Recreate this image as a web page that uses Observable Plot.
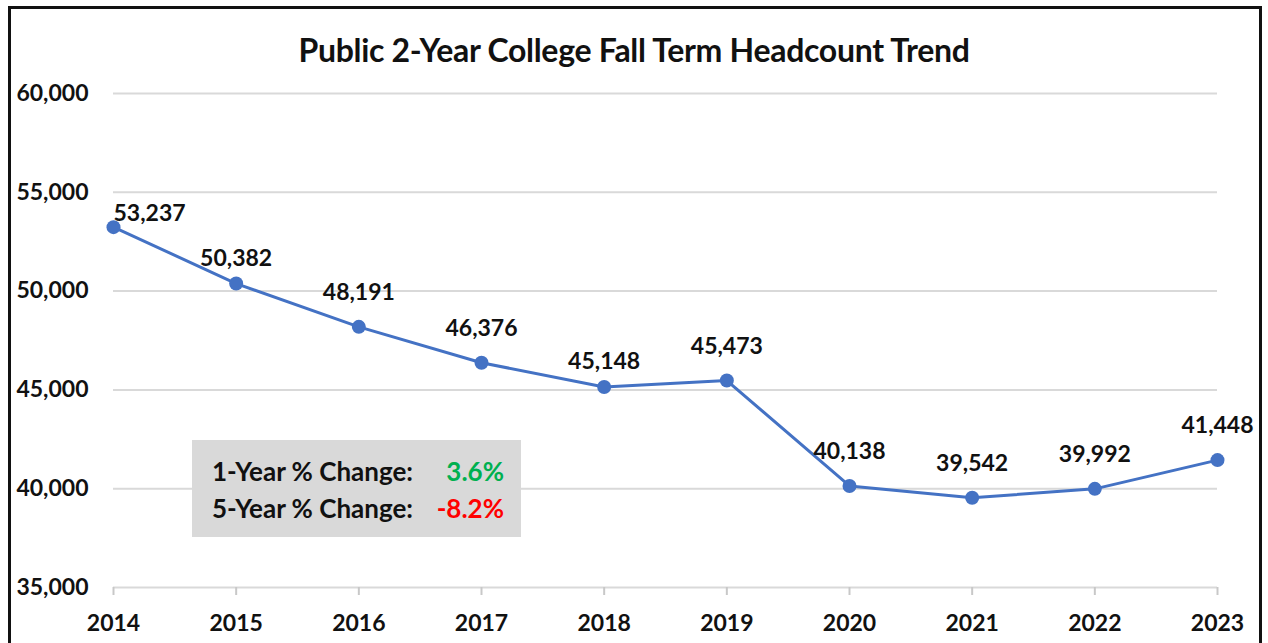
<!DOCTYPE html>
<html>
<head>
<meta charset="utf-8">
<script src="https://cdn.jsdelivr.net/npm/d3@7"></script>
<script src="https://cdn.jsdelivr.net/npm/@observablehq/plot@0.6"></script>
<style>
  html, body { margin: 0; padding: 0; background: #fff; overflow: hidden; }
  #wrap { position: relative; width: 1268px; height: 643px; font-family: Lato, "Open Sans", sans-serif; }
  #frame { position: absolute; left: 8px; top: 6px; width: 1254px; height: 660px; border: 3px solid #111; box-sizing: border-box; pointer-events: none; }
  #title { position: absolute; left: 0; width: 1268px; top: 30px; line-height: 40px; text-align: center; font-weight: 700; font-size: 32px; color: #111; letter-spacing: -0.3px; }
  #box { position: absolute; left: 192px; top: 440px; width: 329px; height: 97px; background: #d9d9d9; font-weight: 700; font-size: 26px; color: #111; }
  #box .row { position: absolute; left: 20px; width: 292px; line-height: 30px; display: flex; justify-content: space-between; }
  #box .g { color: #00b050; }
  #box .r { color: #ff0000; }
  #chart { position: absolute; left: 0; top: 0; }
</style>
</head>
<body>
<div id="wrap">
  <div id="chart"></div>
  <div id="title"></div>
  <div id="box"></div>
  <div id="frame"></div>
</div>
<script>
const title = "Public 2-Year College Fall Term Headcount Trend";
const years = [2014, 2015, 2016, 2017, 2018, 2019, 2020, 2021, 2022, 2023];
const headcount = [53237, 50382, 48191, 46376, 45148, 45473, 40138, 39542, 39992, 41448];
const yTicks = [35000, 40000, 45000, 50000, 55000, 60000];
const changeLabels = ["1-Year % Change:", "5-Year % Change:"];
const changeValues = ["3.6%", "-8.2%"];

const data = years.map((year, i) => ({year, value: headcount[i]}));
const fmt = d3.format(",");
const lowLabels = new Set([2015, 2018]);

const blue = "#4472c4";
const grid = "#d9d9d9";

const chart = Plot.plot({
  width: 1268,
  height: 643,
  marginLeft: 113,
  marginRight: 51,
  marginTop: 93,
  marginBottom: 56,
  style: {fontFamily: "Lato, 'Open Sans', sans-serif", fontWeight: 700, fontSize: "23px", color: "#111", background: "transparent"},
  x: {type: "linear", domain: [years[0], years[years.length - 1]]},
  y: {domain: [yTicks[0], yTicks[yTicks.length - 1]]},
  marks: [
    Plot.ruleY(yTicks, {stroke: grid, strokeWidth: 2}),
    Plot.axisX({ticks: years, tickFormat: d => String(d), tickSize: 8, tickPadding: 19, stroke: "#c8c8c8", strokeWidth: 2, fill: "#111", fontSize: 23, fontWeight: 700, label: null}),
    Plot.axisY({ticks: yTicks, tickFormat: fmt, tickSize: 0, tickPadding: 25, fill: "#111", fontSize: 23, fontWeight: 700, label: null}),
    Plot.line(data, {x: "year", y: "value", stroke: blue, strokeWidth: 3}),
    Plot.dot(data, {x: "year", y: "value", fill: blue, r: 7}),
    Plot.text(data.filter((d, i) => i === 0), {x: "year", y: "value", text: d => fmt(d.value), textAnchor: "start", dx: 0, dy: -14, fontSize: 23, fontWeight: 700, fill: "#111"}),
    Plot.text(data.filter((d, i) => i > 0 && !lowLabels.has(d.year)), {x: "year", y: "value", text: d => fmt(d.value), dy: -34, fontSize: 23, fontWeight: 700, fill: "#111"}),
    Plot.text(data.filter(d => lowLabels.has(d.year)), {x: "year", y: "value", text: d => fmt(d.value), dy: -25, fontSize: 23, fontWeight: 700, fill: "#111"})
  ]
});
document.getElementById("chart").appendChild(chart);
document.getElementById("title").textContent = title;

const box = document.getElementById("box");
const classes = ["g", "r"];
const tops = [16, 53];
changeLabels.forEach((lab, i) => {
  const row = document.createElement("div");
  row.className = "row";
  row.style.top = tops[i] + "px";
  const a = document.createElement("span"); a.textContent = lab;
  const b = document.createElement("span"); b.textContent = changeValues[i]; b.className = classes[i];
  row.appendChild(a); row.appendChild(b);
  box.appendChild(row);
});
</script>
</body>
</html>
